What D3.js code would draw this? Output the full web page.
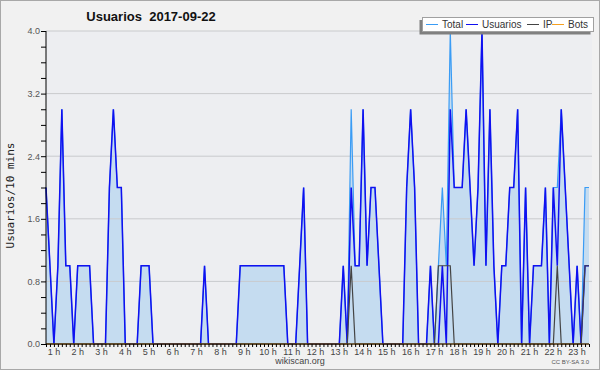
<!DOCTYPE html>
<html>
<head>
<meta charset="utf-8">
<script src="https://cdn.jsdelivr.net/npm/d3@7"></script>
<style>
body { margin: 0; background: #fff; }
</style>
</head>
<body>
<svg id="chart"></svg>
<script>
const WIDTH = 600;
const HEIGHT = 370;
const MARGIN = { left: 46, right: 11, top: 31, bottom: 26 };

const TITLE = 'Usuarios  2017-09-22';
const Y_TITLE = 'Usuarios/10 mins';

// first sample at 00:40, one sample every 10 minutes
const START_MINUTE = 40;
const STEP_MINUTES = 10;

const totalValues = [
    2, 1, 0, 1, 3, 1, 1, 0, 1, 1, 1, 1, 0, 0, 0, 0, 2, 3, 2, 2,
    0, 0, 0, 0, 1, 1, 1, 0, 0, 0, 0, 0, 0, 0, 0, 0, 0, 0, 0, 0,
    1, 0, 0, 0, 0, 0, 0, 0, 0, 1, 1, 1, 1, 1, 1, 1, 1, 1, 1, 1,
    1, 0, 0, 0, 1, 2, 0, 0, 0, 0, 0, 0, 0, 0, 0, 1, 0, 3, 1, 1,
    3, 1, 2, 2, 1, 0, 0, 0, 0, 0, 0, 2, 3, 2, 0, 0, 0, 1, 0, 1,
    2, 1, 4, 2, 2, 2, 3, 2, 1, 2, 4, 1, 3, 1, 0, 1, 1, 2, 2, 3,
    0, 2, 0, 1, 1, 1, 2, 0, 2, 2, 3, 2, 1, 0, 1, 0, 2, 2
];

const userValues = [
    2, 1, 0, 1, 3, 1, 1, 0, 1, 1, 1, 1, 0, 0, 0, 0, 2, 3, 2, 2,
    0, 0, 0, 0, 1, 1, 1, 0, 0, 0, 0, 0, 0, 0, 0, 0, 0, 0, 0, 0,
    1, 0, 0, 0, 0, 0, 0, 0, 0, 1, 1, 1, 1, 1, 1, 1, 1, 1, 1, 1,
    1, 0, 0, 0, 1, 2, 0, 0, 0, 0, 0, 0, 0, 0, 0, 1, 0, 2, 1, 1,
    3, 1, 2, 2, 1, 0, 0, 0, 0, 0, 0, 2, 3, 2, 0, 0, 0, 1, 0, 0,
    1, 0, 3, 2, 2, 2, 3, 2, 1, 2, 4, 1, 3, 1, 0, 1, 1, 2, 2, 3,
    0, 2, 0, 1, 1, 1, 2, 0, 2, 1, 3, 2, 1, 0, 1, 0, 1, 1
];

const ipValues = [
    0, 0, 0, 0, 0, 0, 0, 0, 0, 0, 0, 0, 0, 0, 0, 0, 0, 0, 0, 0,
    0, 0, 0, 0, 0, 0, 0, 0, 0, 0, 0, 0, 0, 0, 0, 0, 0, 0, 0, 0,
    0, 0, 0, 0, 0, 0, 0, 0, 0, 0, 0, 0, 0, 0, 0, 0, 0, 0, 0, 0,
    0, 0, 0, 0, 0, 0, 0, 0, 0, 0, 0, 0, 0, 0, 0, 0, 0, 1, 0, 0,
    0, 0, 0, 0, 0, 0, 0, 0, 0, 0, 0, 0, 0, 0, 0, 0, 0, 0, 0, 1,
    1, 1, 1, 0, 0, 0, 0, 0, 0, 0, 0, 0, 0, 0, 0, 0, 0, 0, 0, 0,
    0, 0, 0, 0, 0, 0, 0, 0, 0, 1, 0, 0, 0, 0, 0, 0, 1, 1
];

const botValues = [
    0, 0, 0, 0, 0, 0, 0, 0, 0, 0, 0, 0, 0, 0, 0, 0, 0, 0, 0, 0,
    0, 0, 0, 0, 0, 0, 0, 0, 0, 0, 0, 0, 0, 0, 0, 0, 0, 0, 0, 0,
    0, 0, 0, 0, 0, 0, 0, 0, 0, 0, 0, 0, 0, 0, 0, 0, 0, 0, 0, 0,
    0, 0, 0, 0, 0, 0, 0, 0, 0, 0, 0, 0, 0, 0, 0, 0, 0, 0, 0, 0,
    0, 0, 0, 0, 0, 0, 0, 0, 0, 0, 0, 0, 0, 0, 0, 0, 0, 0, 0, 0,
    0, 0, 0, 0, 0, 0, 0, 0, 0, 0, 0, 0, 0, 0, 0, 0, 0, 0, 0, 0,
    0, 0, 0, 0, 0, 0, 0, 0, 0, 0, 0, 0, 0, 0, 0, 0, 0, 0
];

const hourLabels = ['1 h', '2 h', '3 h', '4 h', '5 h', '6 h', '7 h', '8 h', '9 h', '10 h',
    '11 h', '12 h', '13 h', '14 h', '15 h', '16 h', '17 h', '18 h', '19 h', '20 h',
    '21 h', '22 h', '23 h'];
const hourMinutes = [60, 120, 180, 240, 300, 360, 420, 480, 540, 600, 660, 720, 780,
    840, 900, 960, 1020, 1080, 1140, 1200, 1260, 1320, 1380];

const yTickValues = [0, 0.8, 1.6, 2.4, 3.2, 4.0];
const yMax = 4.0;

const SERIES = [
    { name: 'Total', values: totalValues, color: '#3a9cf5', width: 1.2 },
    { name: 'Usuarios', values: userValues, color: '#1010f0', width: 1.5 },
    { name: 'IP', values: ipValues, color: '#444444', width: 1.2 },
    { name: 'Bots', values: botValues, color: '#f5a020', width: 1.2 }
];

const svg = d3.select('#chart')
    .attr('width', WIDTH)
    .attr('height', HEIGHT)
    .style('display', 'block');

svg.append('rect')
    .attr('x', 0.5).attr('y', 0.5)
    .attr('width', WIDTH - 1).attr('height', HEIGHT - 1)
    .attr('fill', '#f1f1f1')
    .attr('stroke', '#a8a8a8');

const innerRight = WIDTH - MARGIN.right;
const innerBottom = HEIGHT - MARGIN.bottom;

const minutes = totalValues.map((d, i) => START_MINUTE + i * STEP_MINUTES);

const xScale = d3.scaleLinear()
    .domain([minutes[0], minutes[minutes.length - 1]])
    .range([MARGIN.left, innerRight]);

const yScale = d3.scaleLinear()
    .domain([0, yMax])
    .range([innerBottom, MARGIN.top]);

// plot background
svg.append('rect')
    .attr('x', MARGIN.left).attr('y', MARGIN.top)
    .attr('width', innerRight + 3 - MARGIN.left)
    .attr('height', innerBottom - MARGIN.top)
    .attr('fill', '#edeef1');

// filled area under the total
const area = d3.area()
    .x((d, i) => xScale(minutes[i]))
    .y0(yScale(0))
    .y1(d => yScale(d));

svg.append('path')
    .datum(totalValues)
    .attr('fill', '#c5dcf0')
    .attr('d', area);

// grid
svg.append('g')
    .selectAll('line')
    .data(yTickValues.filter(v => v > 0))
    .join('line')
    .attr('x1', MARGIN.left).attr('x2', innerRight + 3)
    .attr('y1', d => yScale(d)).attr('y2', d => yScale(d))
    .attr('stroke', '#c9cacd')
    .attr('stroke-width', 1);

// series
for (const s of SERIES)
{
    const line = d3.line()
        .x((d, i) => xScale(minutes[i]))
        .y(d => yScale(d));

    svg.append('path')
        .datum(s.values)
        .attr('fill', 'none')
        .attr('stroke', s.color)
        .attr('stroke-width', s.width)
        .attr('stroke-linejoin', 'miter')
        .attr('d', line);
}

// y axis
const yAxis = d3.axisLeft(yScale)
    .tickValues(d3.range(0, 20 + 1).map(k => k * 0.2))
    .tickSize(5)
    .tickFormat(d => (yTickValues.some(v => Math.abs(v - d) < 1e-6) ? d.toFixed(1) : ''));

const yAxisG = svg.append('g')
    .attr('transform', `translate(${ MARGIN.left },0)`)
    .call(yAxis);
yAxisG.select('.domain').attr('stroke', '#000').attr('d', `M0,${ MARGIN.top }V${ innerBottom }`);
yAxisG.selectAll('.tick line').attr('stroke', '#000');
yAxisG.selectAll('.tick text')
    .attr('x', -6)
    .attr('fill', '#555')
    .style('font-family', '"Liberation Sans", Arial, sans-serif')
    .style('font-size', '9px');

// x axis: a tick on every sample, labels on the hours
const xAxisG = svg.append('g')
    .attr('transform', `translate(0,${ innerBottom })`)
    .call(d3.axisBottom(xScale).tickValues(minutes).tickSize(3).tickFormat(''));
xAxisG.select('.domain').attr('stroke', '#000').attr('d', `M${ MARGIN.left },0H${ innerRight }`);
xAxisG.selectAll('.tick line').attr('stroke', '#000');

svg.append('g')
    .selectAll('text')
    .data(hourLabels)
    .join('text')
    .attr('x', (d, i) => xScale(hourMinutes[i]))
    .attr('y', innerBottom + 11)
    .attr('text-anchor', 'middle')
    .attr('fill', '#444')
    .style('font-family', '"Liberation Sans", Arial, sans-serif')
    .style('font-size', '9px')
    .text(d => d);

// titles
svg.append('text')
    .attr('x', 151).attr('y', 21)
    .attr('text-anchor', 'middle')
    .attr('fill', '#111')
    .style('font-family', '"Liberation Sans", Arial, sans-serif')
    .style('font-size', '13px')
    .style('font-weight', 'bold')
    .style('white-space', 'pre')
    .text(TITLE);

svg.append('text')
    .attr('transform', `translate(14,${ (MARGIN.top + innerBottom) / 2 + 8 }) rotate(-90)`)
    .attr('text-anchor', 'middle')
    .attr('fill', '#222')
    .style('font-family', '"DejaVu Sans Mono", monospace')
    .style('font-size', '11px')
    .text(Y_TITLE);

svg.append('text')
    .attr('x', 300).attr('y', 364)
    .attr('text-anchor', 'middle')
    .attr('fill', '#444')
    .style('font-family', '"Liberation Sans", Arial, sans-serif')
    .style('font-size', '9px')
    .text('wikiscan.org');

svg.append('text')
    .attr('x', 589).attr('y', 364)
    .attr('text-anchor', 'end')
    .attr('fill', '#555')
    .style('font-family', '"Liberation Sans", Arial, sans-serif')
    .style('font-size', '6px')
    .text('CC BY-SA 3.0');

// legend
const legend = svg.append('g');
legend.append('rect')
    .attr('x', 419.5).attr('y', 20)
    .attr('width', 171).attr('height', 14.5)
    .attr('fill', '#808080');
legend.append('rect')
    .attr('x', 422.5).attr('y', 17.5)
    .attr('width', 171).attr('height', 14)
    .attr('fill', '#fff')
    .attr('stroke', '#a0a0a0');

const legendX = [426, 466, 527, 552];
SERIES.forEach((s, i) =>
{
    legend.append('line')
        .attr('x1', legendX[i]).attr('x2', legendX[i] + 12)
        .attr('y1', 24.5).attr('y2', 24.5)
        .attr('stroke', s.color)
        .attr('stroke-width', 1);
    legend.append('text')
        .attr('x', legendX[i] + 16).attr('y', 28)
        .attr('fill', '#333')
        .style('font-family', '"Liberation Sans", Arial, sans-serif')
        .style('font-size', '10px')
        .text(s.name);
});
</script>
</body>
</html>
